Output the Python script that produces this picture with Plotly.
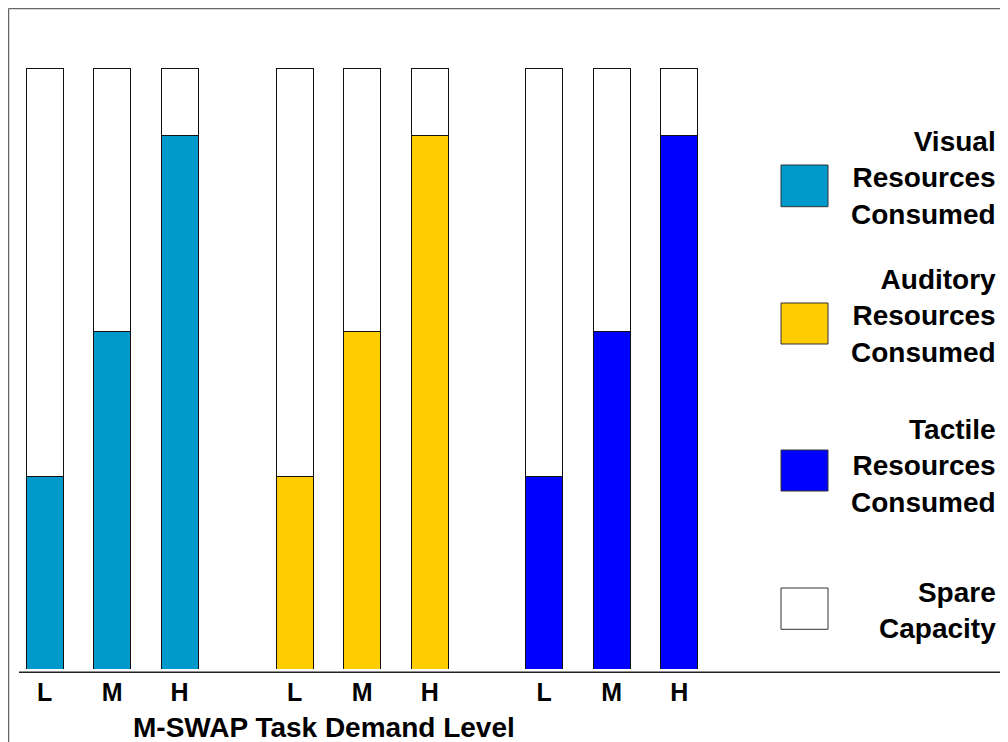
import plotly.graph_objects as go
from plotly.subplots import make_subplots

# ---------------- data ----------------
levels = ["L", "M", "H"]
groups = ["Visual", "Auditory", "Tactile"]
consumed_visual = [32.0, 56.2, 88.7]
consumed_auditory = [32.0, 56.2, 88.7]
consumed_tactile = [32.0, 56.2, 88.7]
spare_visual = [68.0, 43.8, 11.3]
spare_auditory = [68.0, 43.8, 11.3]
spare_tactile = [68.0, 43.8, 11.3]
legend_labels = [
    "Visual<br>Resources<br>Consumed",
    "Auditory<br>Resources<br>Consumed",
    "Tactile<br>Resources<br>Consumed",
    "Spare<br>Capacity",
]
x_title = "M-SWAP Task Demand Level"

# ---------------- style ----------------
colors = ["#0099CC", "#FFCC00", "#0000FF"]
spare_color = "#FFFFFF"
FONT = "Liberation Sans, Arial, sans-serif"
TXT = "#000000"

W, H = 1000, 734
OFF = 8  # page body margin
M_T, M_B = 60, 73
PLOT_H = H - M_T - M_B


def px(sx):
    return (sx - OFF) / W


def py(sy):
    return (H - M_B - (sy - OFF)) / PLOT_H


consumed = [consumed_visual, consumed_auditory, consumed_tactile]
spare = [spare_visual, spare_auditory, spare_tactile]
group_centers = [112.1, 362.2, 611.7]
half = 101.25

fig = make_subplots(rows=1, cols=3, shared_yaxes=True)

for i in range(3):
    fig.add_trace(
        go.Bar(x=levels, y=consumed[i], name=groups[i],
               marker=dict(color=colors[i], line=dict(color="#111111", width=1)),
               showlegend=False),
        row=1, col=i + 1)
    fig.add_trace(
        go.Bar(x=levels, y=spare[i], name="Spare",
               marker=dict(color=spare_color, line=dict(color="#111111", width=1)),
               showlegend=False),
        row=1, col=i + 1)

for i in range(3):
    c = group_centers[i]
    key = "xaxis" if i == 0 else f"xaxis{i+1}"
    fig.layout[key].update(
        domain=[px(c - half), px(c + half)],
        showgrid=False, zeroline=False, showline=False, ticks="",
        ticklabelstandoff=6,
        tickfont=dict(family=FONT, size=25, color=TXT, weight="bold"),
    )
    ykey = "yaxis" if i == 0 else f"yaxis{i+1}"
    fig.layout[ykey].update(range=[0, 100], visible=False, showgrid=False)

shapes = []
# page frame (left + top)
shapes.append(dict(type="line", xref="paper", yref="paper",
                   x0=px(8.5), x1=px(8.5), y0=py(760), y1=py(8.5),
                   line=dict(color="#666666", width=1.5)))
shapes.append(dict(type="line", xref="paper", yref="paper",
                   x0=px(8.5), x1=px(1020), y0=py(8.5), y1=py(8.5),
                   line=dict(color="#666666", width=1.5)))
# category axis baseline
shapes.append(dict(type="line", xref="paper", yref="paper",
                   x0=px(19), x1=px(1001.7), y0=py(672.3), y1=py(672.3),
                   line=dict(color="#222222", width=1.5)))

# custom legend
sq_tops = [165, 303, 450, 588]
sq_bots = [206.7, 344, 491, 629.3]
txt_centers = [178, 316, 466, 610]
leg_colors = colors + [spare_color]
annotations = []
for k in range(4):
    shapes.append(dict(type="rect", xref="paper", yref="paper",
                       x0=px(781), x1=px(828), y0=py(sq_bots[k]), y1=py(sq_tops[k]),
                       fillcolor=leg_colors[k], line=dict(color="#333333", width=1)))
    annotations.append(dict(xref="paper", yref="paper", x=px(998), y=py(txt_centers[k]),
                            xanchor="right", yanchor="middle", align="right",
                            showarrow=False, text=legend_labels[k],
                            font=dict(family=FONT, size=28, color=TXT, weight="bold")))

annotations.append(dict(xref="paper", yref="paper", x=px(324), y=py(727),
                        xanchor="center", yanchor="middle", showarrow=False,
                        text=x_title,
                        font=dict(family=FONT, size=28, color=TXT, weight="bold")))

fig.update_layout(
    width=W, height=H,
    margin=dict(l=0, r=0, t=M_T, b=M_B, pad=0),
    barmode="stack", bargap=0.452,
    paper_bgcolor="white", plot_bgcolor="white",
    showlegend=False,
    shapes=shapes, annotations=annotations,
)

fig.write_html("out.html")
